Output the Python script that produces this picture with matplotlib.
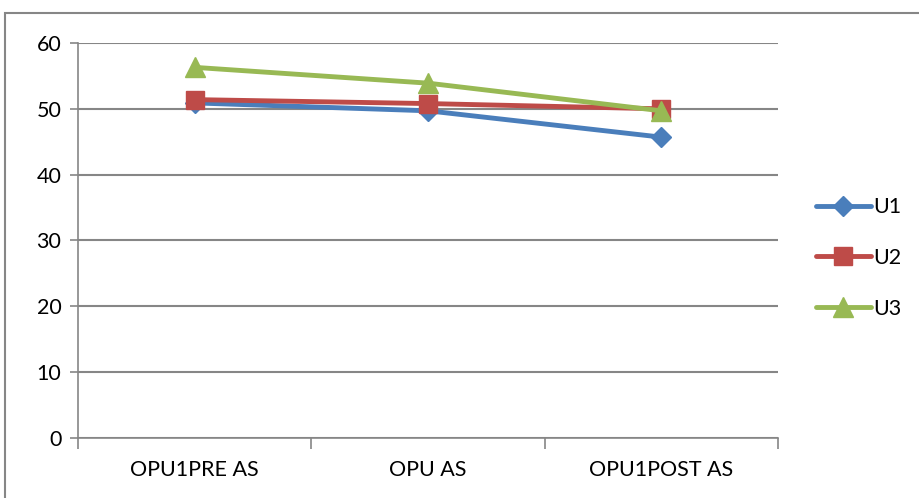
import matplotlib
matplotlib.use("Agg")
import matplotlib.pyplot as plt
from matplotlib.patches import Rectangle

categories = ["OPU1PRE AS", "OPU AS", "OPU1POST AS"]
u1 = [50.9, 49.7, 45.7]
u2 = [51.4, 50.8, 50.0]
u3 = [56.3, 53.9, 49.7]
series_names = ["U1", "U2", "U3"]
colors = ["#4A7EBB", "#BE4B48", "#98B954"]
markers = ["D", "s", "^"]
msizes = [10, 13, 14]

plt.rcParams['font.family'] = ['Lato', 'DejaVu Sans']
FS = 15.5

fig = plt.figure(figsize=(9.2, 4.98), dpi=100)
fig.patches.append(Rectangle((5/920, -0.1), 1.0, (498-13)/498 + 0.1,
                             transform=fig.transFigure, fill=False,
                             edgecolor="#868686", linewidth=1.5, figure=fig))
ax = fig.add_axes([78/920, 1-438/498, 700/920, 395/498])

x = list(range(len(categories)))
for vals, name, c, m, ms in zip([u1, u2, u3], series_names, colors, markers, msizes):
    ax.plot(x, vals, color=c, linewidth=3.5, marker=m, markersize=ms,
            markerfacecolor=c, markeredgecolor=c, label=name, zorder=3,
            solid_capstyle='round')

ax.set_xlim(-0.5, 2.5)
ax.set_ylim(0, 60)
ax.set_yticks(range(0, 61, 10))
ax.yaxis.grid(True, color="#868686", linewidth=1.5)
ax.set_axisbelow(True)
ax.set_xticks([-0.5, 0.5, 1.5, 2.5])
ax.set_xticklabels([])
ax.set_xticks(x, minor=True)
ax.set_xticklabels(categories, minor=True)
ax.tick_params(axis='x', which='major', length=8, width=1.2, color="#868686", direction='out')
ax.tick_params(axis='x', which='minor', length=0, pad=16, labelsize=FS)
ax.tick_params(axis='y', length=6, width=1.2, color="#868686", labelsize=FS, pad=6)
for s in ["top", "right"]:
    ax.spines[s].set_visible(False)
for s in ["left", "bottom"]:
    ax.spines[s].set_color("#868686")
    ax.spines[s].set_linewidth(1.2)

leg = fig.legend(loc="center left", bbox_to_anchor=(816/920, 1-258/498), frameon=False,
                 fontsize=FS, handlelength=2.55, handletextpad=0.1, labelspacing=1.42,
                 borderaxespad=0, borderpad=0)
fig.savefig("out.png", dpi=100)
